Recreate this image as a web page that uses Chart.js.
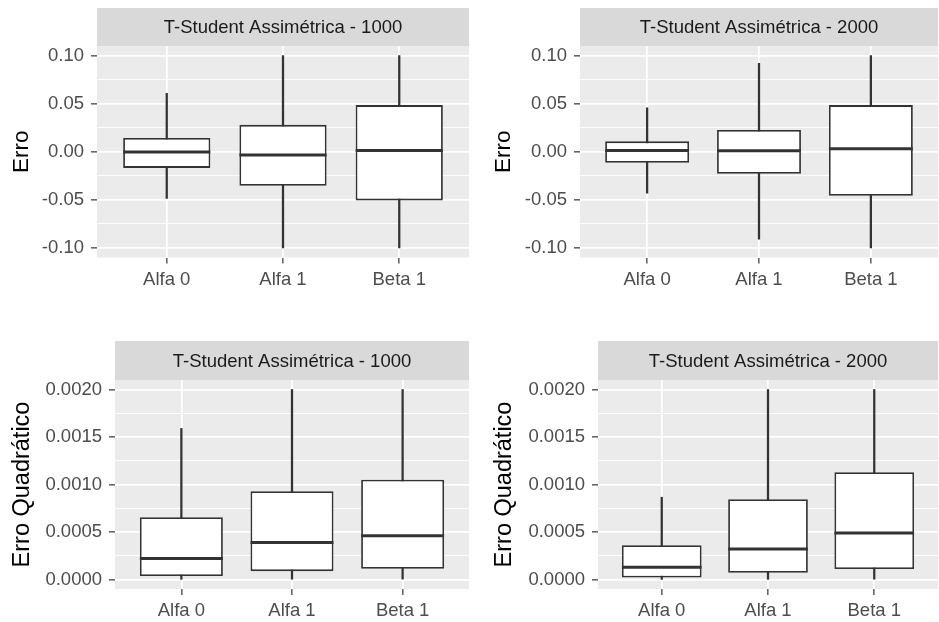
<!DOCTYPE html>
<html>
<head>
<meta charset="utf-8">
<script src="https://cdn.jsdelivr.net/npm/chart.js@4/dist/chart.umd.min.js"></script>
<style>
  html, body { margin: 0; padding: 0; background: #ffffff; }
  body { width: 939px; height: 622px; position: relative; overflow: hidden; }
  .panel { position: absolute; }
</style>
</head>
<body>
<div class="panel" style="left:0;top:0;width:470px;height:311px"><canvas id="p1"></canvas></div>
<div class="panel" style="left:470px;top:0;width:469px;height:311px"><canvas id="p2"></canvas></div>
<div class="panel" style="left:0;top:311px;width:470px;height:311px"><canvas id="p3"></canvas></div>
<div class="panel" style="left:470px;top:311px;width:469px;height:311px"><canvas id="p4"></canvas></div>
<script>
// categories on the x axis
const categories = ["Alfa 0", "Alfa 1", "Beta 1"];

// Erro, n = 1000
const erro1000Min = [-0.0485, -0.1, -0.1];
const erro1000Q1 = [-0.0168, -0.0353, -0.0506];
const erro1000Med = [-0.0003, -0.0035, 0.0014];
const erro1000Q3 = [0.0143, 0.028, 0.0485];
const erro1000Max = [0.0607, 0.1, 0.1];

// Erro, n = 2000
const erro2000Min = [-0.043, -0.091, -0.1];
const erro2000Q1 = [-0.0115, -0.023, -0.0457];
const erro2000Med = [0.0014, 0.001, 0.003];
const erro2000Q3 = [0.0108, 0.0227, 0.0485];
const erro2000Max = [0.0457, 0.092, 0.1];

// Erro Quadratico, n = 1000
const quad1000Min = [0.000002, 0.000003, 0.000004];
const quad1000Q1 = [0.000036, 0.000088, 0.000112];
const quad1000Med = [0.00022, 0.00039, 0.00046];
const quad1000Q3 = [0.000655, 0.00093, 0.00105];
const quad1000Max = [0.00159, 0.002, 0.002];

// Erro Quadratico, n = 2000
const quad2000Min = [0.000001, 0.000002, 0.000003];
const quad2000Q1 = [0.00002, 0.00007, 0.00011];
const quad2000Med = [0.00013, 0.00032, 0.00049];
const quad2000Q3 = [0.00036, 0.000845, 0.00113];
const quad2000Max = [0.000866, 0.002, 0.002];

// y axis breaks and labels
const erroBreaks = [-0.1, -0.05, 0, 0.05, 0.1];
const erroLabels = ["-0.10", "-0.05", "0.00", "0.05", "0.10"];
const erroMinor = [-0.075, -0.025, 0.025, 0.075];
const quadBreaks = [0, 0.0005, 0.001, 0.0015, 0.002];
const quadLabels = ["0.0000", "0.0005", "0.0010", "0.0015", "0.0020"];
const quadMinor = [0.00025, 0.00075, 0.00125, 0.00175];

Chart.defaults.font.family = "'Liberation Sans', Arial, sans-serif";
Chart.defaults.animation = false;

const INK = "#333333";
const BOX_WIDTH = 0.75;
const TEXT_SIZE = 18.5;

const stripPlugin = {
  id: "strip",
  beforeDraw(chart, args, opts) {
    const { ctx, chartArea: a } = chart;
    ctx.save();
    ctx.fillStyle = "#D9D9D9";
    ctx.fillRect(a.left, a.top - opts.height, a.right - a.left, opts.height);
    ctx.fillStyle = "#EBEBEB";
    ctx.fillRect(a.left, a.top, a.right - a.left, a.bottom - a.top);
    ctx.fillStyle = "#1A1A1A";
    ctx.font = TEXT_SIZE + "px 'Liberation Sans', Arial, sans-serif";
    ctx.textAlign = "center";
    ctx.textBaseline = "middle";
    ctx.fillText(opts.text, (a.left + a.right) / 2, a.top - opts.height / 2 + 1);
    ctx.restore();
  },
};

function boxChart(id, title, yTitle, s, yAxis, lay) {
  const majors = yAxis.breaks;
  new Chart(document.getElementById(id), {
    type: "bar",
    data: {
      datasets: [
        {
          type: "line",
          data: categories.map((c, i) => ({ x: i, y: s.med[i] })),
          showLine: false,
          pointStyle: "line",
          pointRadius: (ctx) => {
            const x = ctx.chart.scales.x;
            return x.getPixelForValue(BOX_WIDTH / 2) - x.getPixelForValue(0);
          },
          pointBorderWidth: 3,
          pointBorderColor: INK,
          order: 0,
        },
        {
          data: categories.map((c, i) => ({ x: i, y: [s.q1[i], s.q3[i]] })),
          backgroundColor: "#FFFFFF",
          borderColor: INK,
          borderWidth: 1.8,
          borderSkipped: false,
          barPercentage: BOX_WIDTH,
          categoryPercentage: 1,
          grouped: false,
          order: 1,
        },
        {
          data: categories.map((c, i) => ({ x: i, y: [s.min[i], s.max[i]] })),
          backgroundColor: INK,
          borderWidth: 0,
          barThickness: 1.6,
          grouped: false,
          order: 2,
        },
      ],
    },
    options: {
      responsive: true,
      maintainAspectRatio: false,
      events: [],
      layout: { padding: { top: lay.top, left: lay.left, right: lay.right, bottom: 0 } },
      plugins: {
        legend: { display: false },
        tooltip: { enabled: false },
        strip: { text: title, height: lay.strip },
      },
      scales: {
        x: {
          type: "linear",
          min: -0.6,
          max: 2.6,
          offset: false,
          afterBuildTicks: (sc) => {
            sc.ticks = categories.map((c, i) => ({ value: i }));
          },
          afterFit: (sc) => {
            sc.height = lay.xHeight;
          },
          ticks: {
            callback: (v) => categories[v],
            color: "#4D4D4D",
            font: { size: TEXT_SIZE },
            padding: 5,
            autoSkip: false,
            maxRotation: 0,
          },
          grid: {
            offset: false,
            color: "#FFFFFF",
            lineWidth: 1.7,
            tickLength: 6,
            tickColor: INK,
            tickWidth: 1.2,
          },
          border: { display: false },
        },
        y: {
          min: yAxis.min,
          max: yAxis.max,
          afterBuildTicks: (sc) => {
            sc.ticks = majors.concat(yAxis.minor).sort((a, b) => a - b).map((v) => ({ value: v }));
          },
          afterFit: (sc) => {
            sc.width = lay.yWidth;
          },
          ticks: {
            callback: (v) => {
              const i = majors.indexOf(v);
              return i < 0 ? "" : yAxis.labels[i];
            },
            color: "#4D4D4D",
            font: { size: TEXT_SIZE },
            padding: 7,
            autoSkip: false,
          },
          grid: {
            color: "#FFFFFF",
            lineWidth: (c) => (majors.includes(c.tick.value) ? 1.7 : 0.9),
            tickLength: 6,
            tickColor: (c) => (majors.includes(c.tick.value) ? INK : "rgba(0,0,0,0)"),
            tickWidth: 1.2,
          },
          border: { display: false },
          title: {
            display: true,
            text: yTitle,
            color: "#000000",
            font: { size: lay.titleSize },
            padding: { top: 8, bottom: 0 },
          },
        },
      },
    },
    plugins: [stripPlugin],
  });
}

const erroAxis = { min: -0.11, max: 0.11, breaks: erroBreaks, labels: erroLabels, minor: erroMinor };
const quadAxis = { min: -0.0001, max: 0.0021, breaks: quadBreaks, labels: quadLabels, minor: quadMinor };

boxChart("p1", "T-Student Assimétrica - 1000", "Erro",
  { min: erro1000Min, q1: erro1000Q1, med: erro1000Med, q3: erro1000Q3, max: erro1000Max },
  erroAxis, { top: 46, left: 0, right: 1, yWidth: 97, xHeight: 53.5, strip: 38, titleSize: 22.5 });

boxChart("p2", "T-Student Assimétrica - 2000", "Erro",
  { min: erro2000Min, q1: erro2000Q1, med: erro2000Med, q3: erro2000Q3, max: erro2000Max },
  erroAxis, { top: 46, left: 12, right: 1, yWidth: 98, xHeight: 53.5, strip: 38, titleSize: 22.5 });

boxChart("p3", "T-Student Assimétrica - 1000", "Erro Quadrático",
  { min: quad1000Min, q1: quad1000Q1, med: quad1000Med, q3: quad1000Q3, max: quad1000Max },
  quadAxis, { top: 69, left: 0, right: 1, yWidth: 115, xHeight: 33, strip: 39, titleSize: 23.5 });

boxChart("p4", "T-Student Assimétrica - 2000", "Erro Quadrático",
  { min: quad2000Min, q1: quad2000Q1, med: quad2000Med, q3: quad2000Q3, max: quad2000Max },
  quadAxis, { top: 69, left: 12, right: 1, yWidth: 116, xHeight: 33, strip: 39, titleSize: 23.5 });
</script>
</body>
</html>
